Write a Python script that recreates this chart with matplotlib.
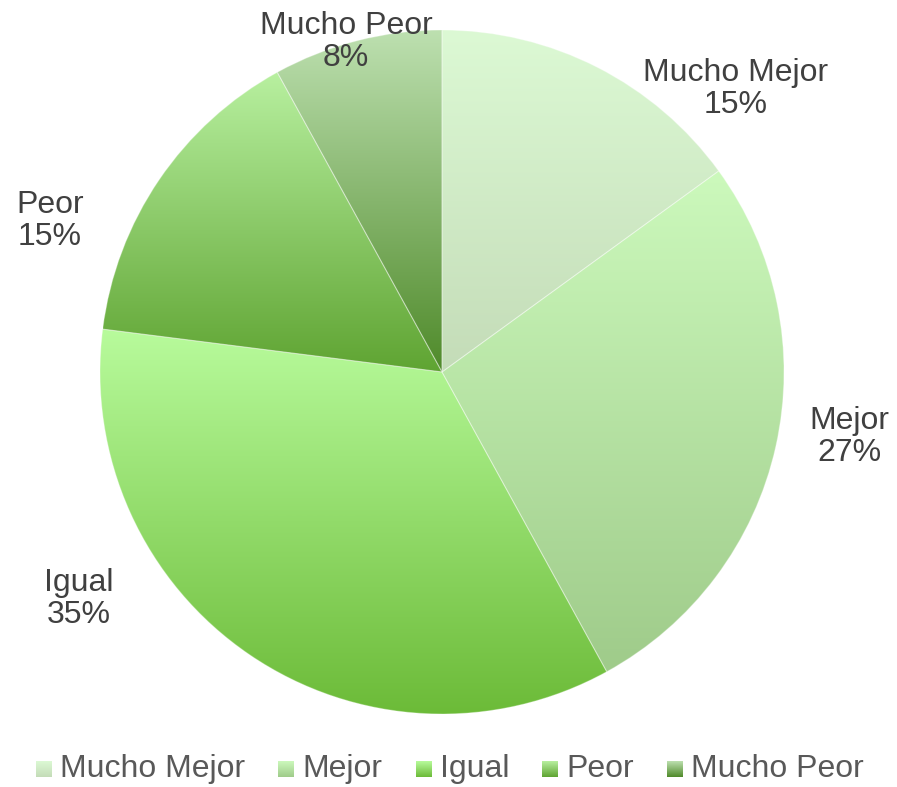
import numpy as np
import matplotlib.pyplot as plt
from matplotlib.colors import to_rgb
from matplotlib.patches import Rectangle

plt.rcParams['font.family'] = ['Liberation Sans', 'DejaVu Sans']

categories = ["Mucho Mejor", "Mejor", "Igual", "Peor", "Mucho Peor"]
values = [15, 27, 35, 15, 8]
# gradient colours per slice (top, bottom)
top_colors = ["#dcf9d4", "#ccf9bc", "#b8fb9c", "#b8f0a0", "#bde0b0"]
bottom_colors = ["#c4dcb8", "#9fcb8a", "#6cbb38", "#5fa432", "#4f8a2a"]
# label positions in pixels (x, y from top)
label_pos = [(736, 89), (849, 437), (79, 599), (50, 221), (346, 42)]
legend_box_x = [36, 278, 416, 542, 667]

W, H = 897, 787
fig = plt.figure(figsize=(W / 100, H / 100), dpi=100)
ax = fig.add_axes([0, 0, 1, 1])


def gradient(c1, c2, n=256):
    a = np.array(to_rgb(c1))
    b = np.array(to_rgb(c2))
    t = np.linspace(0, 1, n)[:, None]
    return (a * (1 - t) + b * t)[:, None, :]


wedges, _ = ax.pie(values, startangle=90, counterclock=False,
                   center=(442, H - 372), radius=342, frame=True,
                   wedgeprops=dict(facecolor='none', edgecolor=(1, 1, 1, 0.3),
                                   linewidth=0.8, zorder=3))

for w, c1, c2 in zip(wedges, top_colors, bottom_colors):
    ext = w.get_path().get_extents()
    im = ax.imshow(gradient(c1, c2), extent=(ext.x0, ext.x1, ext.y0, ext.y1),
                   origin='upper', aspect='auto', zorder=2, interpolation='bilinear')
    im.set_clip_path(w)

total = sum(values)
for cat, v, (lx, ly) in zip(categories, values, label_pos):
    ax.text(lx, H - ly, f"{cat}\n{round(v / total * 100)}%", ha='center', va='center',
            fontsize=23, color='#404040', linespacing=1.12, zorder=5)

# legend
box = 16
ly = H - 769
for cat, bx, c1, c2 in zip(categories, legend_box_x, top_colors, bottom_colors):
    r = Rectangle((bx, ly - box / 2), box, box, facecolor='none', edgecolor='none')
    ax.add_patch(r)
    im = ax.imshow(gradient(c1, c2), extent=(bx, bx + box, ly - box / 2, ly + box / 2),
                   origin='upper', aspect='auto', zorder=2)
    im.set_clip_path(r)
    ax.text(bx + 24, ly, cat, ha='left', va='center', fontsize=23, color='#595959')

ax.set_xlim(0, W)
ax.set_ylim(0, H)
ax.axis('off')
fig.savefig("out.png", dpi=100)
